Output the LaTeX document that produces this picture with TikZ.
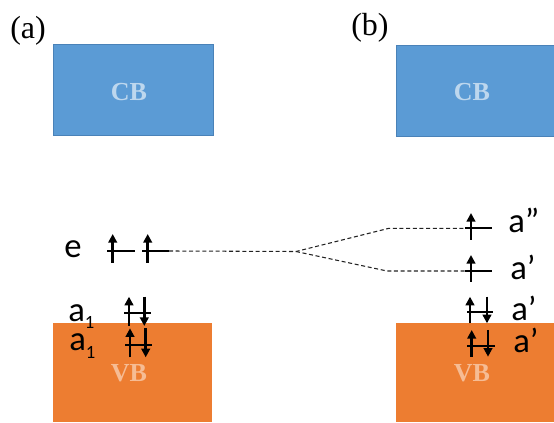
\documentclass[tikz,border=0pt]{standalone}
\usepackage{fontspec}
\setmainfont{Liberation Serif}
\newfontfamily\lblfont{Carlito}
\usetikzlibrary{arrows.meta}
\definecolor{cbblue}{HTML}{5B9BD5}
\definecolor{cbedge}{HTML}{4A82B8}
\definecolor{cbtext}{HTML}{BDD7EE}
\definecolor{vborange}{HTML}{ED7D31}
\definecolor{vbtext}{HTML}{F6BC94}
\definecolor{dashgray}{HTML}{222222}
\tikzset{
  cbbox/.style={fill=cbblue,draw=cbedge,line width=0.5pt},
  vbbox/.style={fill=vborange,draw=none},
  bandtext/.style={font=\fontsize{19.5}{20}\selectfont\bfseries,inner sep=0pt},
  paneltext/.style={font=\fontsize{24}{26}\selectfont,anchor=base west,inner sep=0pt},
  lvltext/.style={font=\lblfont\fontsize{26}{28}\selectfont,anchor=base west,inner sep=0pt},
  level/.style={line width=1.6pt},
  spin/.style={line width=2.2pt,-{Triangle[length=6.5pt,width=6.5pt]}},
  corr/.style={dashgray,line width=0.8pt,dash pattern=on 3pt off 2pt}
}
\newcommand{\subone}{\raisebox{-5.5pt}{\fontsize{14}{14}\selectfont 1}}
\begin{document}
\begin{tikzpicture}[x=0.75pt,y=-0.75pt]
\useasboundingbox (0,0) rectangle (554,423);
% bands
\draw[cbbox] (53,44) rectangle (213,135);
\draw[cbbox] (396,45) rectangle (560,136);
\fill[vborange] (53,323) rectangle (212,422);
\fill[vborange] (396,323) rectangle (554,422);
\node[bandtext,text=cbtext] (cba) at (129,92.5) {CB};
\node[bandtext,text=cbtext] (cbb) at (472,92.5) {CB};
\node[bandtext,text=vbtext] (vba) at (129,373) {VB};
\node[bandtext,text=vbtext] (vbb) at (472,373) {VB};
% panel labels
\node[paneltext] (pa) at (10,38.5) {(a)};
\node[paneltext] (pb) at (351,35.5) {(b)};
% (a) e levels
\coordinate (e1l) at (107,251); \coordinate (e1r) at (135,251);
\coordinate (e2l) at (142,251); \coordinate (e2r) at (169,251);
\draw[level] (e1l) -- (e1r);
\draw[level] (e2l) -- (e2r);
\draw[spin] (112.7,263) -- (112.7,234);
\draw[spin] (147.7,263) -- (147.7,234);
% (a) a1 levels
\draw[level] (124,312.7) -- (151,312.7);
\draw[spin] (129,326) -- (129,296.7);
\draw[spin] (144.3,296.7) -- (144.3,326);
\draw[level] (125,345) -- (152,345);
\draw[spin] (130,357.3) -- (130,328.3);
\draw[spin] (145.7,328.3) -- (145.7,357.3);
% (b) levels
\coordinate (b1l) at (465,228.3); \coordinate (b1r) at (492,228.3);
\coordinate (b2l) at (465,271); \coordinate (b2r) at (492,271);
\draw[level] (b1l) -- (b1r);
\draw[spin] (471,240) -- (471,213);
\draw[level] (b2l) -- (b2r);
\draw[spin] (471,282) -- (471,255);
\draw[level] (467,312) -- (493,312);
\draw[spin] (470,323.3) -- (470,296.7);
\draw[spin] (487,296.7) -- (487,323.3);
\draw[level] (467,345.7) -- (495,345.7);
\draw[spin] (471.7,356.7) -- (471.7,330);
\draw[spin] (488,330) -- (488,356.7);
% correlation lines
\coordinate (split) at (296,251.5);
\coordinate (up) at (389,228.3);
\coordinate (dn) at (387,271);
\draw[corr] (e2r) -- (split) -- (up) -- (b1l);
\draw[corr] (split) -- (dn) -- (b2l);
% level labels
\node[lvltext] (le) at (64,257.5) {e};
\node[lvltext] (la1) at (68,321.5) {a\subone};
\node[lvltext] (la2) at (69,351) {a\subone};
\node[lvltext] (lb1) at (508,233) {a”};
\node[lvltext] (lb2) at (510,280) {a’};
\node[lvltext] (lb3) at (511,321) {a’};
\node[lvltext] (lb4) at (513,353) {a’};
\end{tikzpicture}
\end{document}
